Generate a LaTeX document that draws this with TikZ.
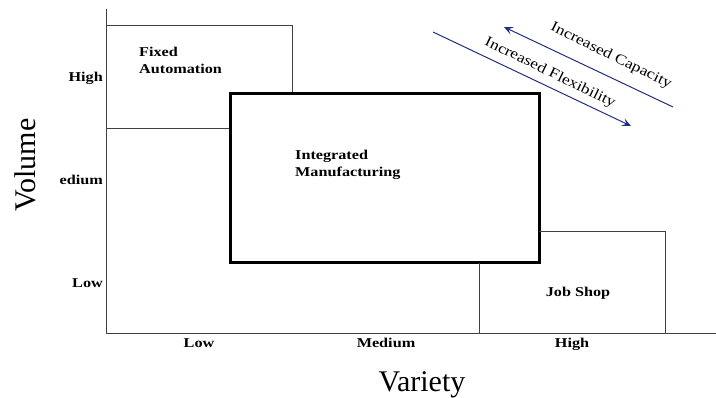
\documentclass[tikz,border=0pt]{standalone}
\usepackage{fontspec}
\setmainfont{Liberation Serif}
\newfontfamily\lblfont[FakeStretch=1.2]{Liberation Serif}
\usetikzlibrary{arrows.meta}
\definecolor{navy}{HTML}{1F2F80}
\definecolor{thin}{HTML}{404040}
\tikzset{
  thinline/.style={draw=thin, line width=1pt},
  thickbox/.style={draw=black, line width=3pt},
  lbl/.style={font=\lblfont\bfseries\fontsize{13.5}{17}\selectfont, inner sep=0pt},
  arrlbl/.style={font=\lblfont\fontsize{14.5}{16}\selectfont, inner sep=0pt},
  axlbl/.style={font=\fontsize{30}{32}\selectfont, inner sep=0pt},
  trend/.style={draw=navy, line width=1pt, -{Stealth[length=9pt,width=8pt,inset=4pt]}}
}
\begin{document}
\begin{tikzpicture}[x=1pt,y=-1pt]
\useasboundingbox (0,0) rectangle (716,398);
% axes
\coordinate (ytop) at (106,9);
\coordinate (orig) at (106,334);
\coordinate (xend) at (716,334);
\draw[thinline] (ytop) -- (orig) -- (xend);
% fixed automation region
\draw[thinline] (106,26) -- (292,26) -- (292,94);
\draw[thinline] (106,129) -- (229,129);
% integrated manufacturing
\draw[thickbox] (230,94) rectangle (539,263);
% job shop
\draw[thinline] (539,232) -- (665,232) -- (665,334);
\draw[thinline] (479,263) -- (479,334);
% region labels
\node[lbl, anchor=base west] (fa1) at (139,57) {Fixed};
\node[lbl, anchor=base west] (fa2) at (139,74) {Automation};
\node[lbl, anchor=base west] (im1) at (295,160) {Integrated};
\node[lbl, anchor=base west] (im2) at (295,177) {Manufacturing};
\node[lbl, anchor=base] (js) at (578,297) {Job Shop};
% tick labels
\node[lbl, anchor=base east] (yh) at (103,82) {High};
\node[lbl, anchor=base east] (ym) at (103,185) {edium};
\node[lbl, anchor=base east] (yl) at (103,288) {Low};
\node[lbl, anchor=base] (xl) at (199,348) {Low};
\node[lbl, anchor=base] (xm) at (386,348) {Medium};
\node[lbl, anchor=base] (xh) at (572,348) {High};
% axis titles
\node[axlbl, rotate=90] (vol) at (25,165) {Volume};
\node[axlbl, anchor=base] (var) at (422,392) {Variety};
% arrows
\coordinate (capA) at (673,107);
\coordinate (capB) at (504,27);
\coordinate (flxA) at (433,32);
\coordinate (flxB) at (631,126);
\draw[trend] (capA) -- (capB);
\draw[trend] (flxA) -- (flxB);
\node[arrlbl, rotate=-26] (cap) at (611,56) {Increased Capacity};
\node[arrlbl, rotate=-26] (flx) at (550,73) {Increased Flexibility};
\end{tikzpicture}
\end{document}
